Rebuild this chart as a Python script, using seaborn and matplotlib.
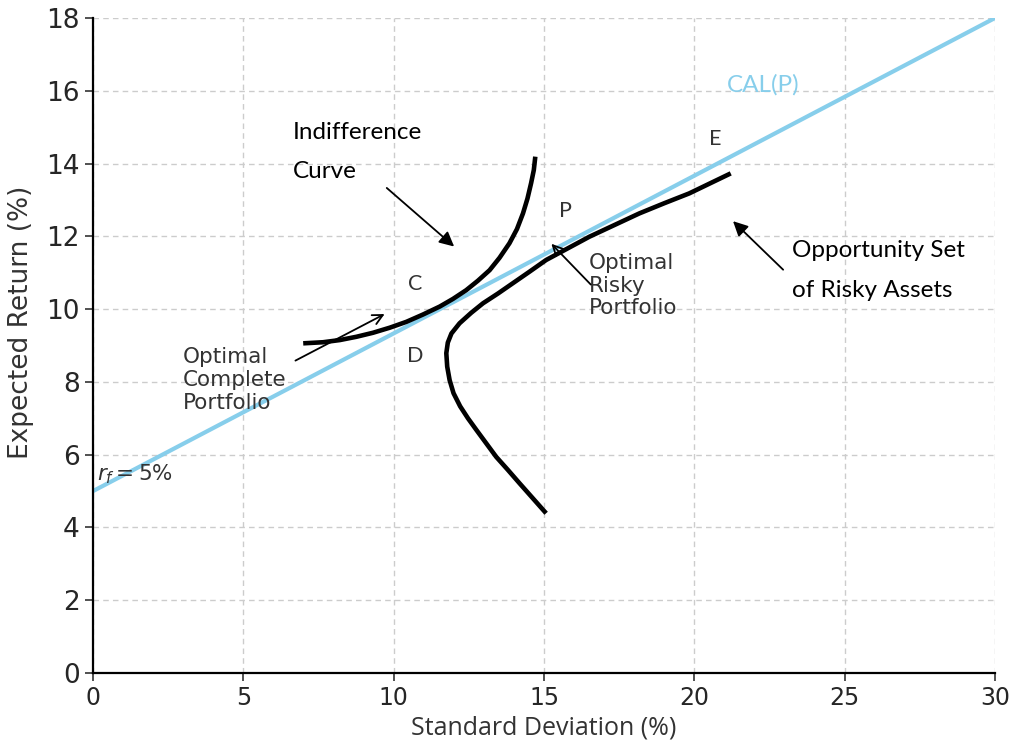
import numpy as np
import pandas as pd
import matplotlib
matplotlib.use("Agg")
import matplotlib.pyplot as plt
import seaborn as sns

# ---- data ----
rf = 5.0
cal_sd = [0, 30]
cal_ret = [5.0, 18.0]

# indifference curve (sd, return)
ic_sd = [6.99, 7.65, 8.21, 8.76, 9.31, 9.87, 10.42, 10.97, 11.53, 11.97, 12.41,
         12.80, 13.19, 13.52, 13.85, 14.10, 14.30, 14.45, 14.57, 14.66, 14.71]
ic_ret = [9.06, 9.09, 9.15, 9.24, 9.35, 9.49, 9.65, 9.85, 10.07, 10.28, 10.52,
          10.78, 11.07, 11.41, 11.81, 12.20, 12.63, 13.04, 13.46, 13.82, 14.19]

# opportunity set of risky assets (sd, return), from bottom end to top end
os_sd = [15.07, 14.63, 14.19, 13.80, 13.41, 13.08, 12.75, 12.47, 12.21, 11.99, 11.86,
         11.78, 11.75, 11.80, 11.92, 12.19, 12.58, 12.97, 13.47, 13.96, 14.52, 15.07,
         15.79, 16.51, 17.34, 18.17, 19.00, 19.83, 21.21]
os_ret = [4.39, 4.80, 5.21, 5.58, 5.94, 6.31, 6.68, 7.00, 7.33, 7.69, 8.05,
          8.42, 8.79, 9.08, 9.33, 9.61, 9.90, 10.16, 10.43, 10.71, 11.03, 11.35,
          11.67, 11.99, 12.31, 12.63, 12.91, 13.18, 13.73]

x_ticks = [0, 5, 10, 15, 20, 25, 30]
y_ticks = [0, 2, 4, 6, 8, 10, 12, 14, 16, 18]

# ---- figure ----
sns.set_theme(style="ticks")
plt.rcParams['font.family'] = ['DejaVu Sans']

fig = plt.figure(figsize=(10.18, 7.44), dpi=100)
ax = fig.add_axes([0.0914, 0.0954, 0.8860, 0.8804])

ax.grid(True, color='#cccccc', linestyle=(0, (4, 3)), linewidth=1.0)
ax.set_axisbelow(True)

cal_df = pd.DataFrame({'sd': cal_sd, 'ret': cal_ret})
ic_df = pd.DataFrame({'sd': ic_sd, 'ret': ic_ret})
os_df = pd.DataFrame({'sd': os_sd, 'ret': os_ret})

sns.lineplot(data=cal_df, x='sd', y='ret', ax=ax, color='#87CEEB', linewidth=3.0,
             sort=False, estimator=None)
sns.lineplot(data=ic_df, x='sd', y='ret', ax=ax, color='black', linewidth=3.3,
             sort=False, estimator=None, solid_capstyle='butt', solid_joinstyle='round')
sns.lineplot(data=os_df, x='sd', y='ret', ax=ax, color='black', linewidth=3.3,
             sort=False, estimator=None, solid_capstyle='butt', solid_joinstyle='round')

ax.set_xlim(0, 30)
ax.set_ylim(0, 18)
ax.set_xticks(x_ticks)
ax.set_yticks(y_ticks)
ax.tick_params(axis='y', labelsize=19, length=6, width=1.2, color='#333333')
ax.tick_params(axis='x', labelsize=17, length=6, width=1.2, color='#333333')
for s in ['top', 'right']:
    ax.spines[s].set_visible(False)
for s in ['left', 'bottom']:
    ax.spines[s].set_linewidth(1.6)
    ax.spines[s].set_color('black')

ax.set_xlabel('Standard Deviation (%)', fontsize=18, color='#333333', family='Open Sans',
              labelpad=4)
ax.set_ylabel('Expected Return (%)', fontsize=19, color='#333333')
ax.yaxis.set_label_coords(-0.066, 0.536)

txt = '#333333'
calibri = ['Lato', 'DejaVu Sans']
ax.text(6.64, 14.84, 'Indifference', fontsize=17.5, color='black', family=calibri, va='center')
ax.text(6.64, 13.77, 'Curve', fontsize=17.5, color='black', family=calibri, va='center')
ax.text(23.26, 11.6, 'Opportunity Set', fontsize=17.5, color='black', family=calibri, va='center')
ax.text(23.26, 10.5, 'of Risky Assets', fontsize=17.5, color='black', family=calibri, va='center')
ax.text(22.29, 16.16, 'CAL(P)', fontsize=17.5, color='#87CEEB', family=calibri, ha='center', va='center')
for lab, (xx, yy) in {'C': (10.73, 10.69), 'D': (10.73, 8.71),
                      'P': (15.71, 12.70), 'E': (20.7, 14.67)}.items():
    ax.text(xx, yy, lab, fontsize=15.5, color=txt, ha='center', va='center', family=calibri)

ax.text(2.99, 8.05, 'Optimal\nComplete\nPortfolio', fontsize=15.5, color=txt, va='center',
        linespacing=1.18)
ax.text(16.49, 10.64, 'Optimal\nRisky\nPortfolio', fontsize=15.5, color=txt, va='center',
        linespacing=1.15)
ax.text(0.13, 5.47, r'$r_f = 5\%$', fontsize=15.5, color=txt, va='center')

# arrows
ax.annotate('', xy=(12.08, 11.67), xytext=(9.70, 13.38),
            arrowprops=dict(arrowstyle='-|>', color='black', lw=1.3, mutation_scale=22))
ax.annotate('', xy=(21.22, 12.47), xytext=(23.02, 11.03),
            arrowprops=dict(arrowstyle='-|>', color='black', lw=1.3, mutation_scale=22))
ax.annotate('', xy=(9.78, 9.90), xytext=(6.65, 8.55),
            arrowprops=dict(arrowstyle='->', color='black', lw=1.3, mutation_scale=18))
ax.annotate('', xy=(15.18, 11.85), xytext=(16.62, 10.62),
            arrowprops=dict(arrowstyle='->', color='black', lw=1.3, mutation_scale=18))

fig.savefig('out.png', dpi=100)
